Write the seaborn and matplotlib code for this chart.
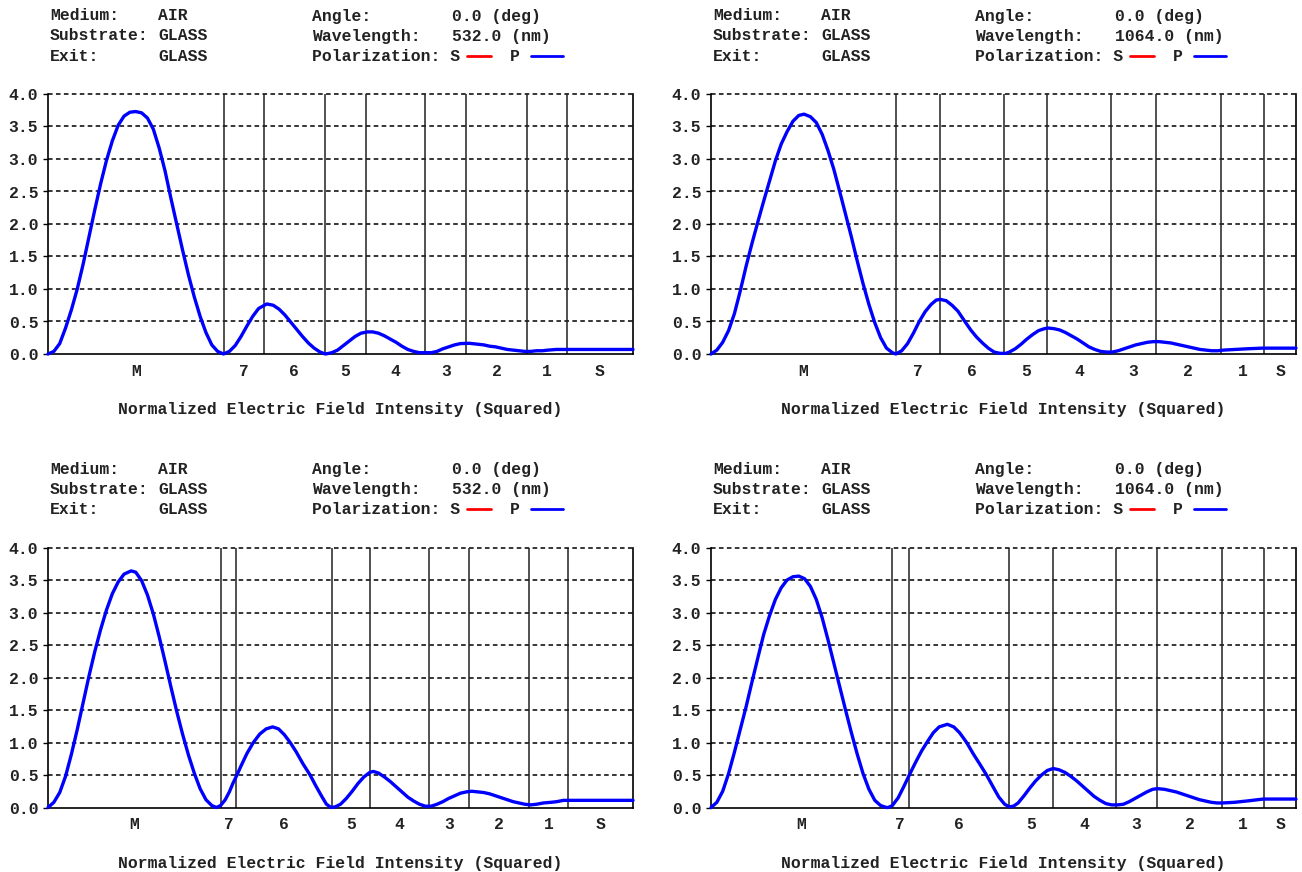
import matplotlib
matplotlib.use("Agg")
import matplotlib.pyplot as plt
from matplotlib.lines import Line2D
import pandas as pd
import seaborn as sns

# ---------------------------------------------------------------------------
# Data: squared normalized E-field through a 7-layer stack on glass
# depth axis runs 0..100 (% of plotted depth), M = incident medium, S = substrate
# ---------------------------------------------------------------------------
LAYERS = ["M", "7", "6", "5", "4", "3", "2", "1", "S"]
Y_TICKS = [0.0, 0.5, 1.0, 1.5, 2.0, 2.5, 3.0, 3.5, 4.0]
WAVELENGTHS = ["532.0", "1064.0", "532.0", "1064.0"]

# interface positions
tl_bounds = [30.1, 36.9, 47.3, 54.3, 64.5, 71.5, 81.9, 88.7]
tr_bounds = [31.6, 39.1, 50.1, 57.5, 68.4, 76.0, 87.1, 94.6]
bl_bounds = [29.5, 32.2, 48.5, 55.0, 65.2, 72.0, 82.2, 88.9]
br_bounds = [30.9, 33.8, 51.0, 58.4, 69.2, 76.3, 87.3, 94.6]

# top-left: 532 nm
tl_x = [0, 1, 2, 3, 4, 5, 6, 7, 8, 9, 10, 11, 12, 13, 14, 15, 16, 17, 18, 19, 20,
        21, 22, 23, 24, 25, 26, 27, 28, 29, 30,
        31.0, 32.0, 33.0, 34.0, 35.0, 36.0, 37.4, 38.5, 39.5, 40.5, 41.5, 42.5,
        43.5, 44.5, 45.5, 46.5, 47.4, 48.0,
        48.5, 49.5, 50.5, 51.5, 52.5, 53.5, 54.6, 55.5, 56.5, 57.5, 58.5, 59.5,
        60.5, 61.5, 62.5, 63.5, 64.5, 65.5,
        66.5, 67.5, 68.5, 69.5, 70.5, 72.0, 73.5, 74.5, 75.5, 76.5, 77.5, 78.5,
        79.5, 80.5, 81.5, 82.5, 83.5, 84.5, 85.5, 86.9, 88.7, 100]
tl_y = [0.00, 0.04, 0.16, 0.40, 0.68, 1.00, 1.38, 1.80, 2.22, 2.62, 2.98, 3.28,
        3.52, 3.66, 3.72, 3.73, 3.71, 3.63, 3.46, 3.17, 2.82, 2.40, 2.00, 1.60,
        1.22, 0.88, 0.58, 0.33, 0.14, 0.04, 0.00,
        0.04, 0.13, 0.27, 0.43, 0.58, 0.70, 0.77, 0.75, 0.69, 0.60, 0.49, 0.38,
        0.27, 0.17, 0.09, 0.03, 0.00, 0.01,
        0.02, 0.06, 0.13, 0.20, 0.27, 0.32, 0.34, 0.34, 0.32, 0.28, 0.23, 0.18,
        0.12, 0.07, 0.04, 0.02, 0.02, 0.02,
        0.04, 0.08, 0.11, 0.14, 0.16, 0.165, 0.15, 0.14, 0.12, 0.11, 0.09, 0.07,
        0.06, 0.05, 0.04, 0.04, 0.05, 0.05, 0.06, 0.07, 0.07, 0.07]

# top-right: 1064 nm
tr_x = [0, 1, 2, 3, 4, 5, 6, 7, 8, 9, 10, 11, 12, 13, 14, 15, 15.9, 17, 18, 19,
        20, 21, 22, 23, 24, 25, 26, 27, 28, 29, 30, 31, 31.6,
        32.6, 33.6, 34.6, 35.6, 36.6, 37.6, 38.5, 39.2, 40.2, 41.2, 42.2, 43.4,
        44.4, 45.4, 46.4, 47.4, 48.4, 49.4, 50.4,
        51.0, 52.0, 53.0, 54.0, 55.0, 56.0, 57.0, 57.6, 58.6, 59.6, 60.6, 61.6,
        62.6, 63.6, 64.6, 65.6, 66.6, 67.6, 68.6,
        69.6, 70.6, 71.6, 72.6, 73.6, 74.6, 75.6, 76.6, 77.6, 78.6, 79.6, 80.6,
        81.6, 82.6, 83.6, 84.6, 85.6, 86.6, 87.6, 89.6, 91.6, 94.2, 100]
tr_y = [0.00, 0.06, 0.18, 0.36, 0.62, 0.97, 1.35, 1.70, 2.03, 2.35, 2.66, 2.97,
        3.23, 3.42, 3.58, 3.67, 3.69, 3.65, 3.56, 3.38, 3.13, 2.84, 2.50, 2.15,
        1.80, 1.43, 1.08, 0.76, 0.48, 0.25, 0.09, 0.02, 0.00,
        0.05, 0.16, 0.32, 0.50, 0.65, 0.76, 0.83, 0.84, 0.82, 0.75, 0.66, 0.50,
        0.37, 0.26, 0.17, 0.09, 0.03, 0.01, 0.01,
        0.03, 0.08, 0.15, 0.23, 0.30, 0.36, 0.39, 0.40, 0.39, 0.37, 0.33, 0.28,
        0.23, 0.17, 0.11, 0.07, 0.04, 0.03, 0.03,
        0.05, 0.08, 0.11, 0.14, 0.16, 0.18, 0.19, 0.19, 0.18, 0.17, 0.15, 0.13,
        0.11, 0.09, 0.07, 0.06, 0.05, 0.05, 0.06, 0.07, 0.08, 0.09, 0.09]

# bottom-left: 532 nm
bl_x = [0, 1, 2, 3, 4, 5, 6, 7, 8, 9, 10, 11, 12, 13, 14.2, 15, 16, 17, 18, 19,
        20, 21, 22, 23, 24, 25, 26, 27, 28, 28.8,
        29.5, 30.3, 31.0, 31.6, 32.3, 33.0, 34.0, 35.1, 36.2, 37.3, 38.4, 39.4,
        40.4, 41.4, 42.4, 43.6, 44.8, 45.8, 46.8, 47.6, 48.4, 49.1,
        50.0, 51.0, 52.0, 53.0, 54.0, 55.0, 55.6, 56.5, 57.5, 58.5, 59.5, 60.5,
        61.5, 62.5, 63.5, 64.5, 65.5,
        66.5, 67.5, 68.5, 69.5, 70.5, 71.5, 72.4, 73.5, 74.5, 75.5, 76.5, 77.5,
        78.5, 79.5, 80.5, 81.5, 82.5, 83.5, 84.7, 86.0, 87.0, 88.1, 100]
bl_y = [0.00, 0.08, 0.23, 0.48, 0.82, 1.20, 1.61, 2.02, 2.40, 2.74, 3.04, 3.29,
        3.47, 3.59, 3.64, 3.62, 3.49, 3.27, 2.98, 2.63, 2.25, 1.86, 1.48, 1.13,
        0.81, 0.53, 0.29, 0.12, 0.03, 0.00,
        0.03, 0.12, 0.24, 0.37, 0.50, 0.64, 0.83, 1.00, 1.13, 1.21, 1.24, 1.21,
        1.12, 1.00, 0.86, 0.67, 0.50, 0.33, 0.17, 0.05, 0.00, 0.01,
        0.05, 0.14, 0.25, 0.37, 0.47, 0.54, 0.555, 0.53, 0.47, 0.40, 0.32, 0.24,
        0.16, 0.10, 0.05, 0.02, 0.02,
        0.05, 0.09, 0.14, 0.18, 0.22, 0.24, 0.25, 0.24, 0.23, 0.21, 0.18, 0.15,
        0.12, 0.09, 0.07, 0.05, 0.04, 0.05, 0.07, 0.08, 0.09, 0.11, 0.11]

# bottom-right: 1064 nm
br_x = [0, 1, 2, 3, 4, 5, 6, 7, 8, 9, 10, 11, 12, 13, 14, 15, 16, 17, 18, 19,
        20, 21, 22, 23, 24, 25, 26, 27, 28, 29, 30,
        30.3, 31.0, 32.0, 33.0, 33.9, 35.0, 36.0, 36.9, 38.0, 39.0, 40.4, 41.5,
        42.5, 43.7, 44.8, 46.0, 47.1, 48.2, 49.2, 50.2, 51.0,
        51.7, 52.5, 53.5, 54.5, 55.5, 56.5, 57.5, 58.5, 59.5, 60.5, 61.5, 62.5,
        63.5, 64.5, 65.5, 66.5, 67.5, 68.5, 69.5, 70.5,
        71.5, 72.5, 73.5, 74.5, 75.5, 76.3, 77.5, 78.5, 79.5, 80.5, 81.5, 82.5,
        83.5, 84.5, 85.5, 86.5, 87.5, 89.5, 91.6, 94.4, 100]
br_y = [0.00, 0.08, 0.25, 0.52, 0.85, 1.20, 1.55, 1.93, 2.30, 2.66, 2.95, 3.20,
        3.38, 3.50, 3.55, 3.56, 3.52, 3.40, 3.20, 2.92, 2.58, 2.22, 1.86, 1.50,
        1.15, 0.82, 0.52, 0.28, 0.11, 0.03, 0.00,
        0.00, 0.03, 0.15, 0.33, 0.50, 0.70, 0.87, 1.00, 1.15, 1.24, 1.28, 1.24,
        1.15, 1.00, 0.83, 0.66, 0.50, 0.32, 0.16, 0.05, 0.01,
        0.02, 0.07, 0.18, 0.30, 0.41, 0.50, 0.57, 0.60, 0.58, 0.54, 0.48, 0.41,
        0.33, 0.25, 0.17, 0.11, 0.06, 0.04, 0.04, 0.05,
        0.09, 0.14, 0.19, 0.24, 0.28, 0.29, 0.28, 0.26, 0.24, 0.21, 0.18, 0.15,
        0.12, 0.10, 0.08, 0.07, 0.07, 0.08, 0.10, 0.13, 0.13]

# ---------------------------------------------------------------------------
sns.set_theme(style="white")
MONO = "Liberation Mono"
plt.rcParams["font.family"] = [MONO, "DejaVu Sans Mono"]
plt.rcParams["font.weight"] = "bold"
FS = 11.8

W, H = 1302, 872
fig = plt.figure(figsize=(W / 100, H / 100), dpi=100)
fig.patch.set_facecolor("white")

AX_W, AX_H = 585, 260
panels = [
    (tl_x, tl_y, tl_bounds, WAVELENGTHS[0], 48, 94),
    (tr_x, tr_y, tr_bounds, WAVELENGTHS[1], 711, 94),
    (bl_x, bl_y, bl_bounds, WAVELENGTHS[2], 48, 547.5),
    (br_x, br_y, br_bounds, WAVELENGTHS[3], 711, 547.5),
]
TEXT_COLOR = "#222222"


def fx(px):
    return px / W


def fy(py):
    return 1 - py / H


def header(left, top, wavelength):
    rows = [("Medium:", "AIR", "Angle:", "0.0 (deg)"),
            ("Substrate:", "GLASS", "Wavelength:", f"{wavelength} (nm)"),
            ("Exit:", "GLASS", "Polarization: S", "")]
    for i, (a, b, c, d) in enumerate(rows):
        y = top - 78 + 20 * i
        for off, s in ((2, a), (110, b), (264, c), (404, d)):
            if s:
                fig.text(fx(left + off), fy(y), s, ha="left", va="center",
                         fontsize=FS, color=TEXT_COLOR)
    y = top - 38
    fig.add_artist(Line2D([fx(left + 419), fx(left + 443)], [fy(y), fy(y)],
                          color="#ff0000", lw=2.0, transform=fig.transFigure))
    fig.text(fx(left + 462), fy(y), "P", ha="left", va="center",
             fontsize=FS, color=TEXT_COLOR)
    fig.add_artist(Line2D([fx(left + 483), fx(left + 515)], [fy(y), fy(y)],
                          color="#0000ff", lw=2.0, transform=fig.transFigure))


for xs, ys, bounds, wl, left, top in panels:
    ax = fig.add_axes([fx(left), fy(top + AX_H), AX_W / W, AX_H / H])
    ax.set_facecolor("white")
    df = pd.DataFrame({"depth": xs, "intensity": ys})

    for b in bounds:
        ax.axvline(b, color="#222222", lw=1.1, zorder=2)
    for t in Y_TICKS[1:]:
        ax.axhline(t, color="black", lw=1.1, ls=(0, (3, 2.2)), zorder=1,
                   clip_on=False)

    sns.lineplot(data=df, x="depth", y="intensity", ax=ax, color="#0000ff",
                 lw=2.4, estimator=None, sort=False, zorder=4)
    ax.lines[-1].set_clip_on(False)

    ax.set_xlim(0, 100)
    ax.set_ylim(0, 4)
    edges = [0] + bounds + [100]
    centers = [(a + b) / 2 for a, b in zip(edges[:-1], edges[1:])]
    ax.set_xticks(centers)
    ax.set_xticklabels(LAYERS)
    ax.set_yticks(Y_TICKS)
    ax.set_yticklabels([f"{t:.1f}" for t in Y_TICKS])
    ax.tick_params(axis="x", length=0, pad=7, labelsize=FS,
                   labelcolor=TEXT_COLOR)
    ax.tick_params(axis="y", length=3.5, width=1, pad=3.5, labelsize=FS,
                   color="black", labelcolor=TEXT_COLOR, left=True,
                   direction="out")
    ax.set_ylabel("")
    ax.set_xlabel("Normalized Electric Field Intensity (Squared)",
                  fontsize=FS, color=TEXT_COLOR, fontweight="bold")
    ax.xaxis.set_label_coords(0.5, -48 / AX_H)

    ax.spines["top"].set_visible(False)
    for side in ("left", "right", "bottom"):
        ax.spines[side].set_visible(True)
        ax.spines[side].set_color("black")
        ax.spines[side].set_linewidth(1.2)

    header(left, top, wl)

fig.savefig("out.png", dpi=100, facecolor="white")
